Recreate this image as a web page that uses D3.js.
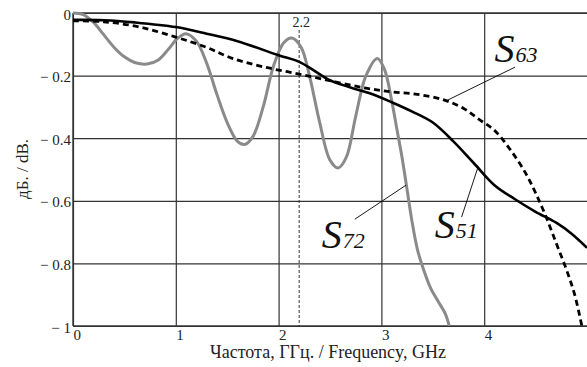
<!DOCTYPE html>
<html>
<head>
<meta charset="utf-8">
<script src="https://cdn.jsdelivr.net/npm/d3@7"></script>
<style>
  body { margin: 0; background: #fff; }
  svg { display: block; }
  svg text { font-family: "Liberation Serif", "Times New Roman", serif; }
  .grid-line .domain { display: none; }
  .grid-line line { stroke: #333; stroke-width: 1.2; }
</style>
</head>
<body>
<svg width="587" height="367"></svg>
<script>
// tick values
const xTicks = [0, 1, 2, 3, 4];
const yTicks = [0, -0.2, -0.4, -0.6, -0.8, -1];

// S51 (solid)
const s51Freq = [0, 0.3, 0.6, 1.0, 1.3, 1.6, 2.0, 2.2, 2.35, 2.5, 2.7, 2.9, 3.1, 3.3, 3.5, 3.7, 3.9, 4.1, 4.3, 4.5, 4.7, 4.85, 5.0];
const s51Val  = [-0.022, -0.023, -0.03, -0.045, -0.066, -0.09, -0.135, -0.156, -0.185, -0.215, -0.238, -0.258, -0.285, -0.315, -0.35, -0.41, -0.48, -0.55, -0.595, -0.635, -0.67, -0.705, -0.75];

// S63 (dashed)
const s63Freq = [0, 0.3, 0.65, 1.0, 1.3, 1.55, 1.85, 2.2, 2.55, 2.85, 3.1, 3.35, 3.6, 3.8, 3.95, 4.1, 4.25, 4.4, 4.5, 4.6, 4.7, 4.8, 4.88, 4.95];
const s63Val  = [-0.025, -0.028, -0.045, -0.077, -0.11, -0.145, -0.172, -0.195, -0.22, -0.24, -0.252, -0.26, -0.277, -0.305, -0.34, -0.375, -0.435, -0.51, -0.575, -0.65, -0.735, -0.82, -0.9, -1.0];

// S72 (gray)
const s72Freq = [0, 0.1, 0.2, 0.3, 0.4, 0.5, 0.6, 0.72, 0.83, 0.93, 1.02, 1.1, 1.2, 1.3, 1.4, 1.5, 1.6, 1.67, 1.75, 1.85, 1.95, 2.05, 2.13, 2.22, 2.3, 2.4, 2.5, 2.58, 2.66, 2.75, 2.85, 2.96, 3.03, 3.1, 3.15, 3.2, 3.25, 3.3, 3.35, 3.4, 3.48, 3.55, 3.62, 3.66];
const s72Val  = [0, -0.005, -0.03, -0.07, -0.11, -0.14, -0.158, -0.163, -0.15, -0.115, -0.08, -0.066, -0.09, -0.16, -0.26, -0.35, -0.41, -0.42, -0.395, -0.3, -0.17, -0.095, -0.08, -0.11, -0.2, -0.35, -0.47, -0.495, -0.46, -0.33, -0.2, -0.145, -0.18, -0.28, -0.37, -0.46, -0.565, -0.67, -0.755, -0.81, -0.88, -0.92, -0.96, -1.0];

const markerFreq = 2.2;

const svg = d3.select('svg');
const margin = { top: 13, right: 0, bottom: 41, left: 73 };
const width = +svg.attr('width') - margin.left - margin.right;
const height = +svg.attr('height') - margin.top - margin.bottom;
const g = svg.append('g').attr('transform', `translate(${margin.left},${margin.top})`);

const x = d3.scaleLinear().domain([0, 5]).range([0, width]);
const y = d3.scaleLinear().domain([-1, 0]).range([height, 0]);

svg.append('defs').append('clipPath').attr('id', 'plotClip')
  .append('rect').attr('x', 0).attr('y', -4).attr('width', width).attr('height', height + 4);

// horizontal grid + y labels
const fmtY = d => d === 0 ? '0' : '\u2212 ' + String(Math.abs(d));
const yAxis = g.append('g')
  .call(d3.axisLeft(y).tickValues(yTicks).tickSize(-width).tickPadding(2).tickFormat(fmtY))
  .attr('class', 'grid-line');
yAxis.selectAll('text')
  .attr('dy', '0.4em')
  .style('font-family', '"Liberation Serif", "Times New Roman", serif')
  .style('font-size', '15px').style('fill', '#222');

// vertical grid + x labels
const xAxis = g.append('g')
  .attr('transform', `translate(0,${height})`)
  .call(d3.axisBottom(x).tickValues(xTicks).tickSize(-height).tickPadding(3).tickFormat(d3.format('d')))
  .attr('class', 'grid-line');
xAxis.selectAll('text')
  .attr('dx', '0.25em').attr('dy', '0.72em')
  .style('font-family', '"Liberation Serif", "Times New Roman", serif')
  .style('font-size', '15px').style('fill', '#222');

// plot frame
g.append('line').attr('x1', 0).attr('x2', width).attr('y1', 0).attr('y2', 0).attr('stroke', '#333').attr('stroke-width', 1.4);
g.append('line').attr('x1', 0).attr('x2', width).attr('y1', height).attr('y2', height).attr('stroke', '#333').attr('stroke-width', 1.4);
g.append('line').attr('x1', 0).attr('x2', 0).attr('y1', 0).attr('y2', height).attr('stroke', '#333').attr('stroke-width', 1.4);

// marker at 2.2 GHz
g.append('line')
  .attr('x1', x(markerFreq)).attr('x2', x(markerFreq))
  .attr('y1', 17).attr('y2', height)
  .attr('stroke', '#333').attr('stroke-width', 1).attr('stroke-dasharray', '3,2');
g.append('text')
  .attr('x', x(markerFreq) + 2).attr('y', 14)
  .attr('text-anchor', 'middle').style('font-size', '14px').attr('fill', '#222')
  .text('2.2');

const line = d3.line().x(d => x(d[0])).y(d => y(d[1])).curve(d3.curveCatmullRom.alpha(0.5));
const curves = g.append('g').attr('clip-path', 'url(#plotClip)');

curves.append('path')
  .datum(d3.zip(s72Freq, s72Val))
  .attr('fill', 'none').attr('stroke', '#8a8a8a').attr('stroke-width', 3)
  .attr('stroke-linejoin', 'round').attr('d', line);

curves.append('path')
  .datum(d3.zip(s63Freq, s63Val))
  .attr('fill', 'none').attr('stroke', '#000').attr('stroke-width', 2.8)
  .attr('stroke-dasharray', '6,4').attr('d', line);

curves.append('path')
  .datum(d3.zip(s51Freq, s51Val))
  .attr('fill', 'none').attr('stroke', '#000').attr('stroke-width', 2.6)
  .attr('stroke-linejoin', 'round').attr('d', line);

// labels with leader lines
const labels = [
  { name: '63', tx: 4.10, ty: -0.157, lx1: 4.30, ly1: -0.173, lx2: 3.64, ly2: -0.279 },
  { name: '72', tx: 2.42, ty: -0.752, lx1: 2.74, ly1: -0.659, lx2: 3.24, ly2: -0.55 },
  { name: '51', tx: 3.52, ty: -0.72, lx1: 3.78, ly1: -0.652, lx2: 3.94, ly2: -0.492 }
];
labels.forEach(l => {
  g.append('line')
    .attr('x1', x(l.lx1)).attr('y1', y(l.ly1))
    .attr('x2', x(l.lx2)).attr('y2', y(l.ly2))
    .attr('stroke', '#000').attr('stroke-width', 0.9);
  const t = g.append('text')
    .attr('x', x(l.tx)).attr('y', y(l.ty))
    .attr('font-style', 'italic').attr('fill', '#111');
  t.append('tspan').attr('font-size', 40).text('S');
  t.append('tspan').attr('font-size', 22).attr('dx', 1).text(l.name);
});

// axis titles
svg.append('text')
  .attr('x', 328).attr('y', 358)
  .attr('text-anchor', 'middle').attr('font-size', 18).attr('fill', '#222')
  .text('Частота, ГГц. / Frequency, GHz');

svg.append('text')
  .attr('transform', 'translate(28,169) rotate(-90)')
  .attr('text-anchor', 'middle').attr('font-size', 17).attr('fill', '#222')
  .text('дБ. / dB.');
</script>
</body>
</html>
